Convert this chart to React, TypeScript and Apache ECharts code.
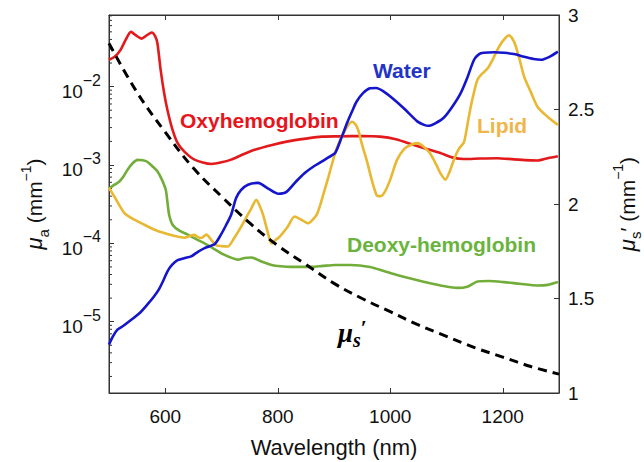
import React, { useEffect, useRef } from 'react';
import * as echarts from 'echarts';

// ---------- data ----------
const oxyWl = [500, 510, 520, 530, 539, 548, 558, 567, 576, 582, 586, 592, 598, 604, 613, 622, 634, 652, 682, 700, 717, 740, 759, 790, 818, 850, 878, 910, 952, 982, 1010, 1042, 1065, 1089, 1110, 1131, 1160, 1190, 1220, 1262, 1280, 1298];
const oxyVal = [0.022, 0.024, 0.029, 0.040, 0.050, 0.045, 0.041, 0.045, 0.049, 0.044, 0.036, 0.016, 0.0083, 0.005, 0.0028, 0.0019, 0.00148, 0.00117, 0.00103, 0.00108, 0.00117, 0.00138, 0.00156, 0.0018, 0.0020, 0.00217, 0.0023, 0.00232, 0.00234, 0.0023, 0.00213, 0.0018, 0.0016, 0.00142, 0.00125, 0.00119, 0.00121, 0.00122, 0.00118, 0.00114, 0.00122, 0.00129];

const waterWl = [500, 507, 515, 525, 539, 555, 568, 580, 589, 597, 604, 612, 622, 635, 646, 658, 670, 688, 699, 708, 717, 726, 735, 747, 765, 783, 801, 815, 833, 848, 863, 878, 890, 902, 914, 923, 932, 940, 952, 964, 975, 988, 1005, 1024, 1048, 1060, 1068, 1080, 1095, 1110, 1125, 1137, 1149, 1158, 1166, 1185, 1202, 1220, 1238, 1255, 1268, 1283, 1298];
const waterVal = [5.1e-6, 6.5e-6, 7.9e-6, 8.8e-6, 1.05e-5, 1.3e-5, 1.65e-5, 2.1e-5, 2.6e-5, 3.4e-5, 4.4e-5, 5.3e-5, 6.1e-5, 6.5e-5, 6.8e-5, 7.8e-5, 8.7e-5, 9.8e-5, 1.29e-4, 1.7e-4, 2.3e-4, 3.8e-4, 4.8e-4, 5.6e-4, 5.9e-4, 5.0e-4, 4.3e-4, 4.5e-4, 6.2e-4, 7.9e-4, 9.5e-4, 1.1e-3, 1.25e-3, 1.42e-3, 2.3e-3, 3.4e-3, 4.8e-3, 6.4e-3, 8.3e-3, 9.5e-3, 9.6e-3, 8.7e-3, 7.0e-3, 5.3e-3, 3.6e-3, 3.25e-3, 3.16e-3, 3.4e-3, 4.0e-3, 5.5e-3, 8.2e-3, 1.3e-2, 0.022, 0.026, 0.027, 0.0275, 0.027, 0.026, 0.024, 0.0225, 0.022, 0.024, 0.028];

const lipidWl = [500, 510, 527, 545, 562, 580, 598, 615, 634, 645, 652, 658, 664, 673, 682, 690, 700, 711, 722, 735, 745, 753, 762, 768, 774, 781, 789, 796, 804, 817, 830, 842, 854, 862, 869, 875, 881, 890, 902, 910, 917, 925, 932, 938, 943, 950, 958, 967, 976, 983, 990, 1000, 1012, 1025, 1036, 1048, 1060, 1071, 1082, 1089, 1098, 1105, 1113, 1122, 1131, 1137, 1143, 1149, 1155, 1163, 1173, 1182, 1190, 1200, 1211, 1218, 1223, 1230, 1238, 1250, 1262, 1280, 1298];
const lipidVal = [5.1e-4, 3.9e-4, 2.45e-4, 2.0e-4, 1.74e-4, 1.5e-4, 1.35e-4, 1.25e-4, 1.18e-4, 1.25e-4, 1.28e-4, 1.2e-4, 1.17e-4, 1.29e-4, 1.1e-4, 9.5e-5, 9.2e-5, 9.1e-5, 1.15e-4, 1.63e-4, 2.2e-4, 2.8e-4, 3.6e-4, 3.0e-4, 2.3e-4, 1.5e-4, 1.0e-4, 1.1e-4, 1.23e-4, 1.6e-4, 2.2e-4, 2.0e-4, 1.8e-4, 2.0e-4, 2.3e-4, 3.0e-4, 4.2e-4, 7.0e-4, 1.42e-3, 2.0e-3, 2.55e-3, 3.2e-3, 3.56e-3, 3.3e-3, 2.8e-3, 1.8e-3, 1.16e-3, 6.5e-4, 4.1e-4, 4.0e-4, 4.5e-4, 6.5e-4, 1.16e-3, 1.6e-3, 1.8e-3, 1.9e-3, 1.7e-3, 1.4e-3, 1.0e-3, 7.9e-4, 6.5e-4, 8.0e-4, 1.16e-3, 1.6e-3, 1.95e-3, 3.2e-3, 5.5e-3, 8.5e-3, 0.0122, 0.0145, 0.017, 0.022, 0.029, 0.038, 0.045, 0.040, 0.033, 0.022, 0.0134, 0.0085, 0.0055, 0.0041, 0.00325];

const deoxyWl = [500, 510, 518, 525, 533, 542, 551, 560, 568, 578, 586, 594, 601, 604, 607, 613, 625, 640, 655, 670, 685, 699, 714, 729, 741, 753, 770, 789, 805, 824, 860, 880, 902, 929, 964, 990, 1012, 1040, 1071, 1095, 1119, 1137, 1155, 1175, 1202, 1230, 1262, 1280, 1298];
const deoxyVal = [5.0e-4, 5.6e-4, 6.1e-4, 7.0e-4, 8.7e-4, 1.05e-3, 1.16e-3, 1.15e-3, 1.1e-3, 9.5e-4, 8.3e-4, 6.5e-4, 4.8e-4, 3.3e-4, 2.3e-4, 1.73e-4, 1.45e-4, 1.29e-4, 1.13e-4, 1.0e-4, 8.6e-5, 7.5e-5, 6.7e-5, 6.2e-5, 6.5e-5, 6.6e-5, 5.9e-5, 5.3e-5, 5.1e-5, 5.0e-5, 5.0e-5, 5.15e-5, 5.3e-5, 5.3e-5, 5.0e-5, 4.4e-5, 3.95e-5, 3.5e-5, 3.1e-5, 2.85e-5, 2.7e-5, 2.8e-5, 3.25e-5, 3.3e-5, 3.2e-5, 3.05e-5, 2.9e-5, 2.95e-5, 3.2e-5];

const scatWl = [500, 550, 600, 650, 700, 750, 800, 850, 900, 950, 1000, 1050, 1100, 1150, 1200, 1250, 1300];
const scatVal = [2.85, 2.59, 2.38, 2.19, 2.04, 1.90, 1.78, 1.68, 1.58, 1.50, 1.43, 1.36, 1.30, 1.24, 1.19, 1.14, 1.10];

const xTickValues = [600, 800, 1000, 1200];
const xMin = 500, xMax = 1300;
const leftMin = 1.23e-6, leftMax = 0.082;
const rightMin = 1, rightMax = 3, rightInterval = 0.5;
const minorDecades = [-6, -5, -4, -3, -2];
const minorMultipliers = [2, 3, 4, 5, 6, 7, 8, 9];

// ---------- styling ----------
const FONT = 'Liberation Sans, Arial, sans-serif';
const AXIS_COLOR = '#333';
const TEXT_COLOR = '#111';

const pairs = (w: number[], v: number[]) => w.map((x, i) => [x, v[i]]);

const minorTickData: number[][] = [];
minorDecades.forEach((e) => {
  minorMultipliers.forEach((k) => {
    const v = k * Math.pow(10, e);
    if (v > leftMin && v < leftMax) minorTickData.push([xMin, v]);
  });
});

function buildOption(): any {
  const lineSeries = (name: string, data: number[][], color: string, yAxisIndex = 0, extra: any = {}) => ({
    name,
    type: 'line',
    xAxisIndex: 0,
    yAxisIndex,
    data,
    symbol: 'none',
    smooth: 0.25,
    lineStyle: { color, width: 2.6, ...extra },
    itemStyle: { color },
    silent: true,
  });

  const labelText = (text: string, x: number, y: number, color: string) => ({
    type: 'text',
    x,
    y,
    style: {
      text,
      fill: color,
      font: `bold 21px ${FONT}`,
      textAlign: 'left',
      textVerticalAlign: 'middle',
      align: 'left',
      verticalAlign: 'middle',
    },
  });

  const titleRich = {
    mu: { fontSize: 22, fontStyle: 'italic', fontFamily: FONT, color: TEXT_COLOR, lineHeight: 32, verticalAlign: 'middle' },
    sub: { fontSize: 15, fontFamily: FONT, color: TEXT_COLOR, verticalAlign: 'bottom' },
    t: { fontSize: 21, fontFamily: FONT, color: TEXT_COLOR, lineHeight: 32, verticalAlign: 'middle' },
    sup: { fontSize: 14, fontFamily: FONT, color: TEXT_COLOR, verticalAlign: 'top' },
  };

  return {
    animation: false,
    backgroundColor: '#fff',
    grid: {
      left: 109,
      right: 85,
      top: 15,
      bottom: 69,
      show: true,
      borderColor: AXIS_COLOR,
      borderWidth: 1,
      backgroundColor: 'transparent',
      outerBoundsMode: 'none',
    },
    xAxis: [
      {
        type: 'value',
        min: xMin,
        max: xMax,
        position: 'bottom',
        name: 'Wavelength (nm)',
        nameLocation: 'middle',
        nameGap: 43,
        nameTextStyle: { fontSize: 22, color: TEXT_COLOR, fontFamily: FONT },
        axisLine: { show: true, lineStyle: { color: AXIS_COLOR, width: 1 } },
        axisTick: { show: true, inside: true, length: 5, customValues: xTickValues, lineStyle: { color: AXIS_COLOR } },
        axisLabel: {
          show: true,
          customValues: xTickValues,
          fontSize: 19,
          color: TEXT_COLOR,
          fontFamily: FONT,
          margin: 14,
          formatter: (v: number) => String(v),
        },
        splitLine: { show: false },
      },
      {
        type: 'value',
        min: xMin,
        max: xMax,
        position: 'top',
        axisLine: { show: true, lineStyle: { color: AXIS_COLOR, width: 1 } },
        axisTick: { show: true, inside: true, length: 5, customValues: xTickValues, lineStyle: { color: AXIS_COLOR } },
        axisLabel: { show: false },
        splitLine: { show: false },
      },
    ],
    yAxis: [
      {
        type: 'log',
        logBase: 10,
        min: leftMin,
        max: leftMax,
        position: 'left',
        name: '{mu|μ}{sub|a}{t| (mm}{sup|−1}{t|)}',
        nameLocation: 'middle',
        nameRotate: 90,
        nameGap: 58,
        nameTextStyle: { color: TEXT_COLOR, fontFamily: FONT, rich: titleRich },
        axisLine: { show: true, lineStyle: { color: AXIS_COLOR, width: 1 } },
        axisTick: { show: true, inside: true, length: 5, lineStyle: { color: AXIS_COLOR } },
        axisLabel: {
          showMinLabel: false,
          showMaxLabel: false,
          margin: 8,
          formatter: (v: number) => `{b|10}{s|−${-Math.round(Math.log10(v))}}`,
          rich: {
            b: { fontSize: 19, fontFamily: FONT, color: TEXT_COLOR, lineHeight: 29, verticalAlign: 'bottom' },
            s: { fontSize: 16, fontFamily: FONT, color: TEXT_COLOR, verticalAlign: 'top' },
          },
        },
        splitLine: { show: false },
      },
      {
        type: 'value',
        min: rightMin,
        max: rightMax,
        interval: rightInterval,
        position: 'right',
        name: '{mu|μ}{sub|s}{t|′ (mm}{sup|−1}{t|)}',
        nameLocation: 'middle',
        nameRotate: 90,
        nameGap: 52,
        nameTextStyle: { color: TEXT_COLOR, fontFamily: FONT, rich: titleRich },
        axisLine: { show: true, lineStyle: { color: AXIS_COLOR, width: 1 } },
        axisTick: { show: true, inside: true, length: 5, lineStyle: { color: AXIS_COLOR } },
        axisLabel: { fontSize: 19, color: TEXT_COLOR, fontFamily: FONT, margin: 9 },
        splitLine: { show: false },
      },
    ],
    series: [
      {
        type: 'custom',
        xAxisIndex: 0,
        yAxisIndex: 0,
        silent: true,
        data: minorTickData,
        renderItem: (params: any, api: any) => {
          const p = api.coord([api.value(0), api.value(1)]);
          return {
            type: 'line',
            shape: { x1: p[0], y1: p[1], x2: p[0] + 3, y2: p[1] },
            style: { stroke: AXIS_COLOR, lineWidth: 1 },
          };
        },
      },
      lineSeries('Deoxy-hemoglobin', pairs(deoxyWl, deoxyVal), '#72ad3a'),
      lineSeries('Oxyhemoglobin', pairs(oxyWl, oxyVal), '#e31a1c'),
      lineSeries('Lipid', pairs(lipidWl, lipidVal), '#e8b832'),
      lineSeries('Water', pairs(waterWl, waterVal), '#1515cc'),
      { ...lineSeries('μs′', pairs(scatWl, scatVal), '#000', 1, { type: [9, 6], width: 3 }), smooth: 0.4 },
    ],
    graphic: [
      labelText('Oxyhemoglobin', 180, 120, '#e8141c'),
      labelText('Water', 373, 70, '#2233c8'),
      labelText('Lipid', 477, 125, '#f0b54a'),
      labelText('Deoxy-hemoglobin', 347, 244, '#6ab43e'),
      {
        type: 'text',
        x: 338,
        y: 333,
        style: {
          text: '{mu|μ}{sub|s}{pr|′}',
          textAlign: 'left',
          textVerticalAlign: 'middle',
          align: 'left',
          verticalAlign: 'middle',
          rich: {
            mu: { font: 'bold italic 27px Liberation Serif, serif', fill: '#000', lineHeight: 34, verticalAlign: 'middle' },
            sub: { font: 'bold italic 20px Liberation Serif, serif', fill: '#000', verticalAlign: 'bottom' },
            pr: { font: 'bold 22px Liberation Serif, serif', fill: '#000', verticalAlign: 'top' },
          },
        },
      },
    ],
  };
}

export default function App() {
  const ref = useRef<HTMLDivElement>(null);
  useEffect(() => {
    document.body.style.margin = '0';
    const chart = echarts.init(ref.current!, null, { renderer: 'svg' });
    chart.setOption(buildOption());
    return () => chart.dispose();
  }, []);
  return <div ref={ref} style={{ width: 644, height: 462 }} />;
}
